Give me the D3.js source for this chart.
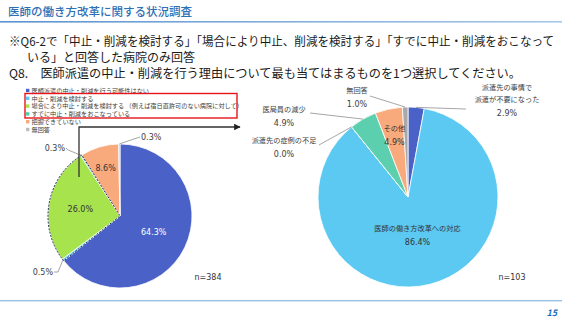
<!DOCTYPE html>
<html>
<head>
<meta charset="utf-8">
<script src="https://cdn.jsdelivr.net/npm/d3@7"></script>
<style>
  body { margin: 0; background: #fff; }
  svg { display: block; }
  text { font-family: "Noto Sans CJK JP", "Noto Sans", sans-serif; }
  .num { font-family: "DejaVu Sans", Verdana, sans-serif; }
</style>
</head>
<body>
<div id="chart"></div>
<script>
// left pie: n=384
const leftCategories = [
  "医師派遣の中止・削減を行う可能性はない",
  "中止・削減を検討する",
  "場合により中止・削減を検討する （例えば宿日直許可のない病院に対して）",
  "すでに中止・削減をおこなっている",
  "把握できていない",
  "無回答"
];
const leftValues = [64.3, 0.5, 26.0, 0.3, 8.6, 0.3];
const leftColors = ["#4a62c8", "#5bc9f2", "#a6e34c", "#4fcfae", "#f9aa7c", "#bdbdbd"];
const leftN = "n=384";

// right pie: n=103
const rightCategories = [
  "派遣先の事情で\n派遣が不要になった",
  "医師の働き方改革への対応",
  "派遣先の症例の不足",
  "医局員の減少",
  "その他",
  "無回答"
];
const rightValues = [2.9, 86.4, 0.0, 4.9, 4.9, 1.0];
const rightColors = ["#4a62c8", "#5bc9f2", "#a6e34c", "#5bcfae", "#f9aa7c", "#a9a9a9"];
const rightN = "n=103";

const width = 569, height = 320;
const fmt = d3.format(".1f");

const svg = d3.select("#chart").append("svg")
  .attr("width", width)
  .attr("height", height);

// header
svg.append("text")
  .attr("x", 8).attr("y", 16)
  .attr("font-size", 11.5)
  .attr("font-weight", 500)
  .attr("fill", "#2f6fb5")
  .text("医師の働き方改革に関する状況調査");

const grad = svg.append("defs").append("linearGradient").attr("id", "hdr");
grad.append("stop").attr("offset", "0%").attr("stop-color", "#5b93cf");
grad.append("stop").attr("offset", "100%").attr("stop-color", "#a9c8ea");
svg.append("rect").attr("x", 0).attr("y", 21).attr("width", 562).attr("height", 1.6).attr("fill", "url(#hdr)");

const question = svg.append("g").attr("fill", "#1a1a1a").attr("font-size", 12);
question.append("text").attr("x", 9).attr("y", 46)
  .attr("textLength", 545).attr("lengthAdjust", "spacingAndGlyphs")
  .text("※Q6-2で「中止・削減を検討する」「場合により中止、削減を検討する」「すでに中止・削減をおこなって");
question.append("text").attr("x", 27).attr("y", 62)
  .text("いる」と回答した病院のみ回答");
question.append("text").attr("x", 9).attr("y", 78)
  .attr("textLength", 512).attr("lengthAdjust", "spacingAndGlyphs")
  .text("Q8.　医師派遣の中止・削減を行う理由について最も当てはまるものを1つ選択してください。");

// legend
const legend = svg.append("g").attr("transform", "translate(26,90.5)");
const legendItems = legend.selectAll("g").data(leftCategories).join("g")
  .attr("transform", (d, i) => `translate(0,${i * 7.8})`);
legendItems.append("rect")
  .attr("x", 0).attr("y", -1.7).attr("width", 3.4).attr("height", 3.4)
  .attr("fill", (d, i) => leftColors[i]);
legendItems.append("text")
  .attr("x", 5.5).attr("y", 2.2)
  .attr("font-size", 6.2)
  .attr("fill", "#404040")
  .text(d => d);

svg.append("rect")
  .attr("x", 25).attr("y", 93.5).attr("width", 212).attr("height", 24.5)
  .attr("fill", "none").attr("stroke", "#e8141b").attr("stroke-width", 1.4);

// ---------- left pie ----------
const lc = { x: 120, y: 216, r: 72 };
const pie = d3.pie().value(d => d).sort(null);
const leftArcs = pie(leftValues);
const leftArc = d3.arc().innerRadius(0).outerRadius(lc.r);
const leftEdge = d3.arc().innerRadius(lc.r).outerRadius(lc.r);

const lg = svg.append("g").attr("transform", `translate(${lc.x},${lc.y})`);
lg.selectAll("path.slice").data(leftArcs).join("path")
  .attr("class", "slice")
  .attr("d", leftArc)
  .attr("fill", (d, i) => leftColors[i])
  .attr("stroke", "#fff")
  .attr("stroke-width", 0.8);

// dashed outline round the highlighted answers (items 2-4)
lg.append("path")
  .attr("d", d3.arc().innerRadius(0).outerRadius(lc.r)({
    startAngle: leftArcs[1].startAngle,
    endAngle: leftArcs[3].endAngle
  }))
  .attr("fill", "none")
  .attr("stroke", "#1f2b5c")
  .attr("stroke-width", 1)
  .attr("stroke-dasharray", "2,1.4");

// inside labels (radius factor per slice)
const leftInside = [
  { i: 0, k: 0.52, color: "#fff" },
  { i: 2, k: 0.56, color: "#333" },
  { i: 4, k: 0.70, color: "#333" }
];
lg.selectAll("text.in").data(leftInside).join("text")
  .attr("class", "in num")
  .attr("transform", d => {
    const a = (leftArcs[d.i].startAngle + leftArcs[d.i].endAngle) / 2;
    return `translate(${Math.sin(a) * lc.r * d.k},${-Math.cos(a) * lc.r * d.k})`;
  })
  .attr("text-anchor", "middle")
  .attr("dy", "0.35em")
  .attr("font-size", 8)
  .attr("fill", d => d.color)
  .text(d => fmt(leftValues[d.i]) + "%");

// outside labels
const leftOutside = [
  { i: 5, tx: 21, ty: -79, anchor: "start", bend: [8, -75] },
  { i: 3, tx: -55, ty: -68, anchor: "end", bend: [-52, -66] },
  { i: 1, tx: -67, ty: 56, anchor: "end", bend: [-62, 56] }
];
leftOutside.forEach(o => {
  const p = leftEdge.centroid(leftArcs[o.i]);
  lg.append("polyline")
    .attr("points", [p, o.bend, [o.tx + (o.anchor === "start" ? -1 : 1), o.ty]].map(q => q.join(",")).join(" "))
    .attr("fill", "none").attr("stroke", "#808080").attr("stroke-width", 0.7);
  lg.append("text").attr("class", "num")
    .attr("x", o.tx).attr("y", o.ty).attr("dy", "0.35em")
    .attr("text-anchor", o.anchor)
    .attr("font-size", 8).attr("fill", "#404040")
    .text(fmt(leftValues[o.i]) + "%");
});

svg.append("text").attr("class", "num")
  .attr("x", 208).attr("y", 280).attr("text-anchor", "middle")
  .attr("font-size", 8).attr("fill", "#333").text(leftN);

// connector arrow from highlighted slice to right chart
svg.append("defs").append("marker")
  .attr("id", "arrow").attr("viewBox", "0 0 10 10")
  .attr("refX", 9).attr("refY", 5)
  .attr("markerWidth", 5).attr("markerHeight", 5)
  .attr("orient", "auto")
  .append("path").attr("d", "M0,0L10,5L0,10z").attr("fill", "#222");
svg.append("polyline")
  .attr("points", "79,177 79,127 240,127")
  .attr("fill", "none")
  .attr("stroke", "#333")
  .attr("stroke-width", 1.3)
  .attr("marker-end", "url(#arrow)");

// ---------- right pie ----------
const rc = { x: 408, y: 197, r: 90 };
const rightArcs = pie(rightValues);
const rightArc = d3.arc().innerRadius(0).outerRadius(rc.r);
const rightEdge = d3.arc().innerRadius(rc.r).outerRadius(rc.r);

const rg = svg.append("g").attr("transform", `translate(${rc.x},${rc.y})`);
rg.selectAll("path").data(rightArcs).join("path")
  .attr("d", rightArc)
  .attr("fill", (d, i) => rightColors[i])
  .attr("stroke", "#fff")
  .attr("stroke-width", 0.8);

const rightInside = [
  { i: 1, k: 0.43 },
  { i: 4, k: 0.70 }
];
rightInside.forEach(o => {
  const a = (rightArcs[o.i].startAngle + rightArcs[o.i].endAngle) / 2;
  const t = rg.append("text")
    .attr("transform", `translate(${Math.sin(a) * rc.r * o.k},${-Math.cos(a) * rc.r * o.k})`)
    .attr("text-anchor", "middle")
    .attr("fill", "#333");
  t.append("tspan").attr("x", 0).attr("y", -4).attr("font-size", 7.2).text(rightCategories[o.i]);
  t.append("tspan").attr("class", "num").attr("x", 0).attr("y", 10).attr("font-size", 8).text(fmt(rightValues[o.i]) + "%");
});

const rightOutside = [
  { i: 0, tx: 99, ty: -107, end: [58, -88] },
  { i: 5, tx: -51, ty: -104, end: [-38, -101] },
  { i: 3, tx: -124, ty: -85, end: [-98, -84] },
  { i: 2, tx: -124, ty: -54, end: [-89, -52] }
];
rightOutside.forEach(o => {
  const p = rightEdge.centroid(rightArcs[o.i]);
  rg.append("line")
    .attr("x1", p[0]).attr("y1", p[1])
    .attr("x2", o.end[0]).attr("y2", o.end[1])
    .attr("stroke", "#808080").attr("stroke-width", 0.7);
  const lines = rightCategories[o.i].split("\n");
  const t = rg.append("text").attr("text-anchor", "middle").attr("fill", "#404040");
  lines.forEach((s, j) => {
    t.append("tspan").attr("x", o.tx).attr("y", o.ty + j * 12).attr("font-size", 7.2).text(s);
  });
  t.append("tspan").attr("class", "num")
    .attr("x", o.tx).attr("y", o.ty + lines.length * 12 + 2)
    .attr("font-size", 8).text(fmt(rightValues[o.i]) + "%");
});

svg.append("text").attr("class", "num")
  .attr("x", 512).attr("y", 280).attr("text-anchor", "middle")
  .attr("font-size", 8).attr("fill", "#333").text(rightN);

// footer
svg.append("rect").attr("x", 0).attr("y", 300).attr("width", 562).attr("height", 1.4).attr("fill", "#9cc0e6");
svg.append("text")
  .attr("x", 557).attr("y", 316).attr("text-anchor", "end")
  .attr("font-family", "Liberation Sans, Arial, sans-serif")
  .attr("font-style", "italic").attr("font-weight", "bold")
  .attr("font-size", 9).attr("fill", "#1f6fc0")
  .text("15");
</script>
</body>
</html>
